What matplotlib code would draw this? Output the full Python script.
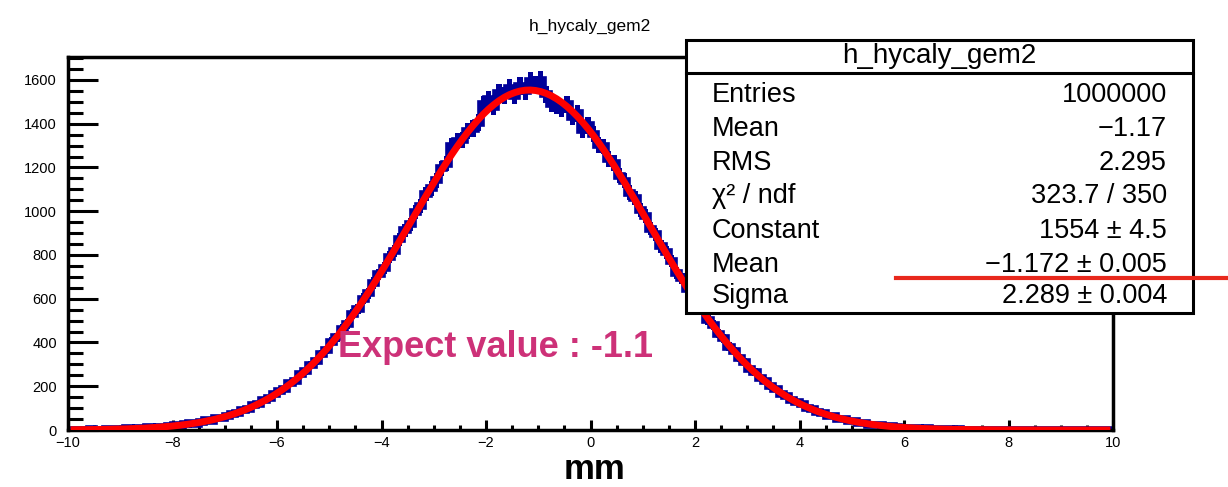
import numpy as np
import matplotlib
matplotlib.use("Agg")
import matplotlib.pyplot as plt
from matplotlib.patches import Rectangle
from matplotlib.lines import Line2D
from matplotlib.ticker import MultipleLocator

plt.rcParams['font.family'] = ['Liberation Sans', 'DejaVu Sans']

# histogram: 200 bins of 0.1 mm between -10 and 10
bin_edges = np.linspace(-10, 10, 201)
counts = [
    1, 0, 2, 1, 3, 2, 1, 4, 3, 5,
    4, 7, 5, 9, 8, 12, 10, 15, 13, 18,
    21, 20, 27, 30, 29, 38, 44, 43, 55, 56,
    66, 75, 78, 92, 95, 112, 118, 137, 144, 163,
    179, 188, 215, 226, 254, 268, 299, 314, 349, 366,
    403, 424, 463, 486, 530, 552, 600, 624, 672, 711,
    739, 790, 819, 871, 912, 940, 995, 1022, 1078, 1104,
    1141, 1196, 1218, 1298, 1320, 1327, 1368, 1378, 1405, 1490,
    1512, 1478, 1541, 1530, 1564, 1528, 1572, 1548, 1596, 1578,
    1601, 1535, 1490, 1482, 1470, 1489, 1430, 1448, 1371, 1392,
    1355, 1302, 1296, 1238, 1220, 1162, 1140, 1085, 1060, 1004,
    977, 921, 895, 840, 812, 772, 719, 693, 645, 620,
    571, 548, 503, 480, 441, 419, 381, 362, 329, 311,
    281, 265, 238, 224, 199, 188, 166, 157, 137, 129,
    117, 101, 96, 83, 78, 66, 63, 52, 50, 41,
    40, 33, 31, 25, 24, 22, 17, 16, 15, 11,
    11, 8, 9, 6, 7, 4, 5, 3, 4, 2,
    3, 1, 2, 2, 1, 0, 2, 1, 0, 1,
    0, 1, 0, 0, 1, 0, 0, 0, 0, 1,
    0, 0, 0, 1, 0, 0, 0, 0, 0, 0,
]

# gaussian fit curve, read at the bin centres
fit_vals = [
    1.0, 1.2, 1.4, 1.6, 1.9, 2.2, 2.6, 3.1, 3.6, 4.2,
    4.8, 5.6, 6.5, 7.5, 8.6, 9.9, 11.4, 13.0, 14.9, 17.0,
    19.4, 22.0, 25.0, 28.3, 32.0, 36.1, 40.7, 45.8, 51.3, 57.5,
    64.2, 71.6, 79.7, 88.6, 98.3, 108.8, 120.3, 132.6, 145.9, 160.4,
    175.9, 192.6, 210.3, 229.2, 249.4, 271.0, 293.7, 317.8, 343.3, 370.0,
    398.1, 427.4, 458.0, 490.0, 523.1, 557.1, 592.7, 629.2, 666.8, 705.2,
    744.0, 783.8, 824.2, 864.8, 906.0, 947.0, 988.2, 1029.2, 1069.8, 1109.9,
    1149.3, 1187.9, 1225.3, 1261.5, 1296.5, 1329.8, 1361.3, 1390.8, 1418.3, 1443.8,
    1466.7, 1487.2, 1505.2, 1520.5, 1533.0, 1542.5, 1549.3, 1553.1, 1554.0, 1551.8,
    1546.7, 1538.7, 1527.8, 1514.1, 1497.7, 1478.6, 1456.9, 1432.9, 1406.5, 1378.1,
    1347.6, 1315.3, 1281.3, 1245.8, 1209.0, 1171.0, 1132.1, 1092.4, 1052.0, 1011.3,
    970.2, 929.1, 888.0, 847.2, 806.6, 766.6, 727.1, 688.3, 650.3, 613.3,
    577.3, 542.4, 508.6, 476.1, 444.7, 415.0, 386.2, 358.9, 332.4, 307.5,
    283.7, 261.6, 240.6, 220.8, 202.5, 185.3, 169.2, 154.0, 140.0, 127.0,
    115.1, 104.1, 94.0, 84.6, 76.1, 68.3, 61.2, 54.7, 48.8, 43.4,
    38.6, 34.2, 30.3, 26.8, 23.7, 20.8, 18.3, 16.0, 14.1, 12.3,
    10.7, 9.3, 8.1, 7.0, 6.1, 5.2, 4.5, 3.9, 3.4, 2.9,
    2.5, 2.1, 1.8, 1.5, 1.3, 1.1, 0.92, 0.78, 0.66, 0.55,
    0.46, 0.38, 0.32, 0.26, 0.22, 0.18, 0.15, 0.12, 0.10, 0.08,
    0.07, 0.05, 0.04, 0.04, 0.03, 0.02, 0.02, 0.02, 0.01, 0.01,
]

stat_names = ['Entries', 'Mean', 'RMS', 'χ² / ndf', 'Constant', 'Mean', 'Sigma']
stat_values = ['1000000', '\u22121.17', '2.295', '323.7 / 350', '1554 ± 4.5',
               '\u22121.172 ± 0.005', '2.289 ± 0.004']
hist_name = 'h_hycaly_gem2'
note_text = 'Expect value : -1.1'

W, H = 1228, 487
fig = plt.figure(figsize=(W / 100, H / 100), dpi=100)
ax = fig.add_axes([68 / W, 1 - 430 / H, (1113 - 68) / W, (430 - 57) / H])

counts = np.array(counts, dtype=float)
centers = 0.5 * (bin_edges[:-1] + bin_edges[1:])
errs = np.sqrt(counts)
blue = '#000099'

# error boxes + thick histogram line (ROOT style)
ax.bar(centers, 2 * errs, bottom=counts - errs, width=0.1, color=blue, linewidth=0, zorder=2)
ax.stairs(counts, bin_edges, baseline=None, color=blue, linewidth=5.5, zorder=2)
ax.plot(centers, fit_vals, color='#ff0000', linewidth=5, zorder=3, solid_capstyle='butt')

ax.set_xlim(-10, 10)
ax.set_ylim(0, 1705)
ax.xaxis.set_major_locator(MultipleLocator(2))
ax.xaxis.set_minor_locator(MultipleLocator(0.5))
ax.yaxis.set_major_locator(MultipleLocator(200))
ax.yaxis.set_minor_locator(MultipleLocator(50))
ax.tick_params(axis='x', which='major', direction='in', length=7.5, width=2.2, labelsize=10.5, pad=4)
ax.tick_params(axis='x', which='minor', direction='in', length=3.8, width=2.2)
ax.tick_params(axis='y', which='major', direction='in', length=21.5, width=2.2, labelsize=10.5, pad=8)
ax.tick_params(axis='y', which='minor', direction='in', length=10.8, width=2.2)
for sp in ax.spines.values():
    sp.set_linewidth(2.5)

fig.text(590 / W, 1 - 31 / H, hist_name, ha='center', va='baseline', fontsize=12.5)
fig.text(595 / W, 1 - 479 / H, 'mm', ha='center', va='baseline', fontsize=25, fontweight='bold')
ax.text(338 / W, 1 - 357 / H, note_text, transform=fig.transFigure, ha='left', va='baseline',
        fontsize=26, fontweight='bold', color='#cd3178', zorder=4)

# stats box
bx0, bx1, by_top, by_bot = 686, 1193, 40, 313
fig.add_artist(Rectangle((bx0 / W, 1 - by_bot / H), (bx1 - bx0) / W, (by_bot - by_top) / H,
                         transform=fig.transFigure, facecolor='white', edgecolor='black',
                         linewidth=2.2, zorder=5))
fig.add_artist(Line2D([bx0 / W, bx1 / W], [1 - 73 / H, 1 - 73 / H], transform=fig.transFigure,
                      color='black', linewidth=2.2, zorder=6))
fig.text((bx0 + bx1) / 2 / W, 1 - 63 / H, hist_name, ha='center', va='baseline', fontsize=20, zorder=7)
baselines = [102, 136, 170, 203, 238, 272, 303]
for name, val, yb in zip(stat_names, stat_values, baselines):
    fig.text(712 / W, 1 - yb / H, name, ha='left', va='baseline', fontsize=19.5, zorder=7)
    fig.text(1167 / W, 1 - yb / H, val, ha='right', va='baseline', fontsize=19.5, zorder=7)

# red marker line under the fitted mean
fig.add_artist(Line2D([896 / W, 1.0], [1 - 278 / H, 1 - 278 / H], transform=fig.transFigure,
                      color='#e8281c', linewidth=3, zorder=8))

fig.savefig('out.png', dpi=100)
